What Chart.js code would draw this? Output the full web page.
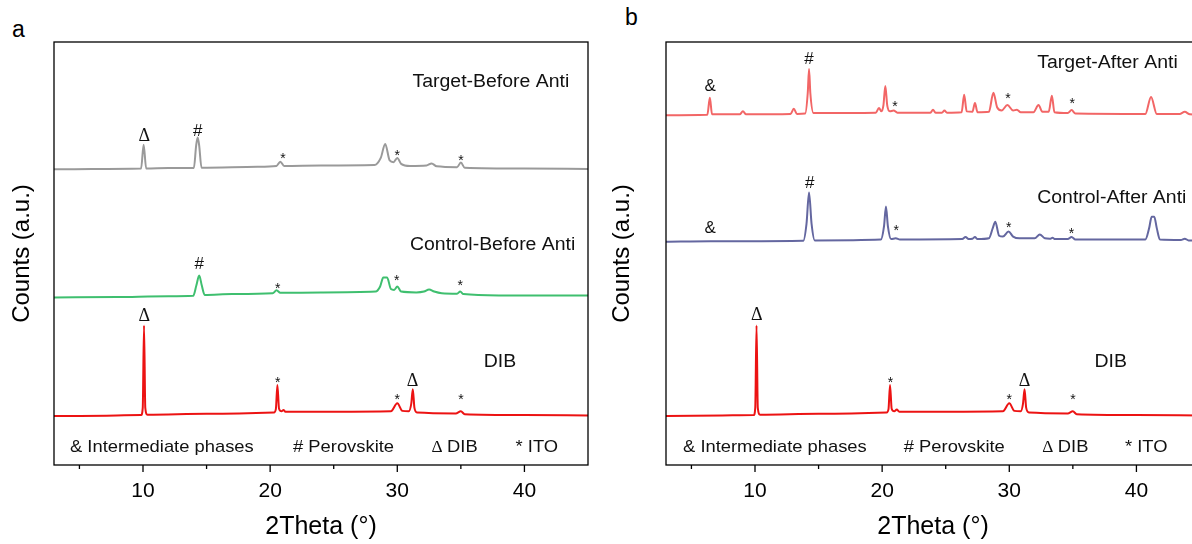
<!DOCTYPE html>
<html lang="en">
<head>
<meta charset="UTF-8">
<title>XRD patterns</title>
<script src="https://cdn.jsdelivr.net/npm/chart.js"></script>
<style>
  body { margin: 0; background: #fff; width: 1192px; height: 544px; overflow: hidden; position: relative;
         font-family: "Liberation Sans", Arial, sans-serif; }
  canvas { position: absolute; top: 0; }
  .tag { position: absolute; font-size: 23px; color: #000; line-height: 1; }
</style>
</head>
<body>
<div class="tag" style="left:12px; top:18px;">a</div>
<div class="tag" style="left:625px; top:6px;">b</div>
<canvas id="chartA" style="left:0" width="600" height="544"></canvas>
<canvas id="chartB" style="left:600px" width="612" height="544"></canvas>
<script>
// 2Theta range and tick labels
const thetaMin = 3, thetaMax = 45;
const majorTicks = [10, 20, 30, 40];
const minorTicks = [5, 15, 25, 35];

// ---- panel a : [2theta, counts (a.u., stacked)] ----
const targetBefore = [
  [3, 69.9], [6, 70.0], [9.85, 70.1], [10.05, 75.7], [10.25, 70.1], [12, 70.2],
  [14.0, 70.2], [14.18, 75.5], [14.3, 77.4], [14.42, 75.5], [14.6, 70.3],
  [19, 70.5], [20.5, 70.7], [20.8, 71.7], [21.1, 70.7], [24, 70.8], [28.2, 70.9],
  [28.7, 72.6], [29.05, 75.9], [29.4, 72.0], [29.7, 71.6], [30.0, 72.6], [30.3, 71.2],
  [31, 70.7], [32.3, 70.8], [32.7, 71.3], [33.1, 70.6], [34.7, 70.4], [35.0, 71.5],
  [35.3, 70.3], [40, 70.1], [45, 70.0]
];
const controlBefore = [
  [3, 39.6], [8, 39.7], [12, 39.9], [13.95, 40.0], [14.2, 42.5], [14.42, 44.8], [14.62, 42.5],
  [14.85, 40.2], [17, 40.4], [20.2, 40.6], [20.5, 41.3], [20.8, 40.7], [24, 40.8],
  [28.3, 41.0], [28.65, 42.2], [28.9, 44.3], [29.2, 44.3], [29.5, 41.6], [29.75, 41.4],
  [30.0, 42.2], [30.3, 41.0], [31.5, 40.8], [32.1, 41.0], [32.5, 41.5], [32.9, 41.0],
  [33.5, 40.6], [34.7, 40.5], [34.95, 41.0], [35.2, 40.4], [38, 40.1], [45, 40.1]
];
const dibA = [
  [3, 11.6], [9.85, 11.8], [9.98, 13.5], [10.08, 33.0], [10.18, 13.5], [10.35, 11.9],
  [15, 12.1], [20.3, 12.4], [20.45, 13.2], [20.57, 18.9], [20.7, 13.3], [20.9, 12.7],
  [21.05, 13.0], [21.2, 12.6], [25, 12.6], [29.5, 12.7], [30.0, 14.6], [30.4, 12.8],
  [30.9, 12.7], [31.1, 14.5], [31.22, 17.9], [31.35, 13.5], [31.55, 12.4], [34.6, 12.2],
  [35.0, 12.7], [35.3, 12.0], [40, 11.8], [45, 11.7]
];

// ---- panel b ----
const targetAfter = [
  [3, 82.7], [6.25, 82.8], [6.45, 86.8], [6.62, 82.9], [8.8, 82.9], [9.05, 83.6], [9.3, 82.9],
  [12.8, 83.0], [13.05, 84.2], [13.3, 83.0], [13.95, 83.1], [14.15, 88.0], [14.25, 93.6],
  [14.35, 88.0], [14.6, 83.2], [19.5, 83.3], [19.75, 84.4], [19.95, 83.6], [20.1, 85.0],
  [20.25, 89.6], [20.4, 85.0], [20.6, 83.6], [20.9, 83.8], [21.2, 83.3], [23.8, 83.3],
  [24.0, 84.0], [24.2, 83.3], [24.7, 83.3], [24.9, 83.8], [25.1, 83.3], [26.25, 83.4],
  [26.45, 87.5], [26.65, 83.6], [27.1, 83.5], [27.3, 85.6], [27.5, 83.4], [28.4, 83.5],
  [28.75, 88.0], [29.05, 84.5], [29.4, 83.8], [29.85, 85.1], [30.3, 83.8], [30.6, 84.0],
  [30.9, 83.4], [31.9, 83.4], [32.3, 85.1], [32.6, 83.5], [33.1, 83.5], [33.35, 87.3],
  [33.55, 83.4], [34.6, 83.2], [34.9, 83.9], [35.2, 83.1], [40.7, 83.0], [41.15, 87.0],
  [41.6, 83.0], [43.4, 83.0], [43.8, 83.5], [44.2, 82.9], [45, 82.8]
];
const controlAfter = [
  [3, 52.8], [6.5, 52.9], [9, 52.9], [13.8, 53.0], [14.05, 57.0], [14.25, 64.4], [14.45, 57.0],
  [14.7, 53.1], [19.9, 53.3], [20.15, 56.5], [20.3, 61.1], [20.45, 56.5], [20.7, 53.4],
  [21.07, 53.6], [21.4, 53.3], [26.3, 53.4], [26.56, 53.9], [26.8, 53.4], [27.1, 53.5],
  [27.3, 53.9], [27.5, 53.4], [28.4, 53.6], [28.7, 56.0], [28.9, 57.5], [29.2, 54.2],
  [29.5, 54.0], [29.94, 55.2], [30.3, 54.0], [30.8, 53.6], [32.0, 53.6], [32.4, 54.5],
  [32.8, 53.6], [33.2, 53.5], [33.4, 53.7], [33.6, 53.4], [34.6, 53.4], [34.9, 53.9],
  [35.2, 53.3], [40.7, 53.3], [41.0, 56.0], [41.2, 58.7], [41.4, 58.7], [41.6, 56.0],
  [41.85, 53.3], [43.5, 53.2], [43.8, 53.5], [44.1, 53.1], [45, 53.1]
];
const dibB = [
  [3, 11.6], [9.9, 11.8], [10.02, 13.5], [10.12, 33.0], [10.22, 13.5], [10.4, 11.9],
  [15, 12.1], [20.35, 12.4], [20.5, 13.2], [20.62, 18.9], [20.75, 13.3], [20.95, 12.7],
  [21.15, 13.1], [21.35, 12.6], [25, 12.6], [29.5, 12.7], [30.0, 14.6], [30.4, 12.8],
  [30.9, 12.7], [31.08, 14.5], [31.2, 17.9], [31.33, 13.5], [31.55, 12.4], [34.6, 12.2],
  [35.0, 12.7], [35.3, 12.0], [40, 11.8], [45, 11.7]
];

// sample names [text, 2theta, counts]
const namesA = [["Target-Before Anti", 31.2, 90.6], ["Control-Before Anti", 31.0, 51.9], ["DIB", 36.8, 24.4]];
const namesB = [["Target-After Anti", 32.2, 95.0], ["Control-After Anti", 32.2, 63.0], ["DIB", 36.7, 24.4]];

// peak markers [symbol, 2theta, counts]
const marksA = [
  ["Δ", 10.1, 77.8], ["#", 14.3, 79.0], ["*", 21.0, 72.9], ["*", 30.0, 73.8], ["*", 35.0, 72.6],
  ["#", 14.42, 47.4], ["*", 20.6, 42.2], ["*", 29.95, 44.1], ["*", 34.95, 42.9],
  ["Δ", 10.1, 35.1], ["*", 20.6, 20.0], ["*", 30.0, 16.0], ["Δ", 31.2, 19.8], ["*", 35.0, 16.0]
];
const marksB = [
  ["&", 6.48, 89.6], ["#", 14.25, 96.0], ["*", 21.0, 85.4], ["*", 29.9, 87.3], ["*", 34.95, 86.1],
  ["&", 6.48, 55.9], ["#", 14.3, 66.5], ["*", 21.1, 55.9], ["*", 29.95, 56.8], ["*", 34.9, 55.4],
  ["Δ", 10.14, 35.4], ["*", 20.65, 20.0], ["*", 30.0, 16.0], ["Δ", 31.2, 19.8], ["*", 35.0, 16.0]
];

// legend row [text, 2theta, counts]
const keyA = [["& Intermediate phases", 4.26, 4.1], ["# Perovskite", 21.8, 4.1], ["Δ DIB", 32.7, 4.1], ["* ITO", 39.3, 4.1]];
const keyB = [["& Intermediate phases", 4.34, 4.1], ["# Perovskite", 21.7, 4.1], ["Δ DIB", 32.6, 4.1], ["* ITO", 39.1, 4.1]];

const FONT = '"Liberation Sans", Arial, sans-serif';
const SERIF = '"Liberation Serif", "Times New Roman", serif';
const STRETCH = 1.08;

// text slightly wider than the font, as in the original figure
function wideText(ctx, t, px, py, font) {
  ctx.save();
  ctx.translate(px, py);
  ctx.scale(STRETCH, 1);
  if (t.startsWith('Δ ')) {
    ctx.font = '16px ' + SERIF;
    ctx.fillText('Δ', 0, 0);
    const w = ctx.measureText('Δ ').width;
    ctx.font = font;
    ctx.fillText(t.slice(2), w, 0);
  } else {
    ctx.font = font;
    ctx.fillText(t, 0, 0);
  }
  ctx.restore();
}

const framePlugin = {
  id: 'frame',
  afterDraw(chart, args, opts) {
    const { ctx, chartArea: a, scales: { x, y } } = chart;
    ctx.save();
    ctx.strokeStyle = '#000';
    ctx.lineWidth = 1.3;
    ctx.strokeRect(a.left, a.top, a.right - a.left, a.bottom - a.top);
    ctx.beginPath();
    majorTicks.forEach(v => { const px = x.getPixelForValue(v); ctx.moveTo(px, a.bottom); ctx.lineTo(px, a.bottom + 7); });
    minorTicks.forEach(v => { const px = x.getPixelForValue(v); ctx.moveTo(px, a.bottom); ctx.lineTo(px, a.bottom + 4); });
    ctx.stroke();

    ctx.fillStyle = '#111';
    ctx.textBaseline = 'middle';
    ctx.textAlign = 'left';
    opts.names.forEach(([t, tx, ty]) => wideText(ctx, t, x.getPixelForValue(tx), y.getPixelForValue(ty), '18px ' + FONT));
    opts.key.forEach(([t, tx, ty]) => wideText(ctx, t, x.getPixelForValue(tx), y.getPixelForValue(ty), '17px ' + FONT));
    ctx.textAlign = 'center';
    opts.marks.forEach(([t, tx, ty]) => {
      ctx.font = t === '*' ? '14px ' + FONT : t === 'Δ' ? '18px ' + SERIF : '17px ' + FONT;
      // '*' sits high in its box, push it down a little
      const dy = t === '*' ? 3 : 0;
      ctx.fillText(t, x.getPixelForValue(tx), y.getPixelForValue(ty) + dy);
    });
    ctx.restore();
  }
};

function line(points, color) {
  return {
    data: points.map(p => ({ x: p[0], y: p[1] })),
    borderColor: color, borderWidth: 2, pointRadius: 0,
    showLine: true, cubicInterpolationMode: 'monotone', fill: false
  };
}

function xrdChart(id, datasets, yWidth, names, marks, key) {
  return new Chart(document.getElementById(id), {
    type: 'scatter',
    data: { datasets: datasets },
    plugins: [framePlugin],
    options: {
      responsive: false, animation: false, devicePixelRatio: 1,
      layout: { padding: { left: 0, top: 42, right: 12, bottom: 0 } },
      plugins: { legend: { display: false }, tooltip: { enabled: false }, frame: { names, marks, key } },
      scales: {
        x: {
          type: 'linear', min: thetaMin, max: thetaMax,
          afterBuildTicks: s => { s.ticks = majorTicks.map(v => ({ value: v })); },
          afterFit: s => { s.height = 79; },
          grid: { display: false, drawTicks: false }, border: { display: false },
          ticks: { color: '#000', font: { size: 21, family: FONT }, padding: 14, maxRotation: 0 },
          title: { display: true, text: '2Theta (°)', color: '#000', font: { size: 25, family: FONT }, padding: { top: 0, bottom: 2 } }
        },
        y: {
          min: 0, max: 100,
          afterFit: s => { s.width = yWidth; },
          grid: { display: false, drawTicks: false }, border: { display: false },
          ticks: { display: false },
          title: { display: true, text: 'Counts (a.u.)', color: '#000', font: { size: 24, family: FONT }, padding: { top: 8, bottom: 0 } }
        }
      }
    }
  });
}

xrdChart('chartA', [
  line(targetBefore, '#9a9a9a'),
  line(controlBefore, '#3fbf6f'),
  line(dibA, '#ec1313')
], 54, namesA, marksA, keyA);

xrdChart('chartB', [
  line(targetAfter, '#f26666'),
  line(controlAfter, '#6467a0'),
  line(dibB, '#ec1313')
], 66, namesB, marksB, keyB);
</script>
</body>
</html>
